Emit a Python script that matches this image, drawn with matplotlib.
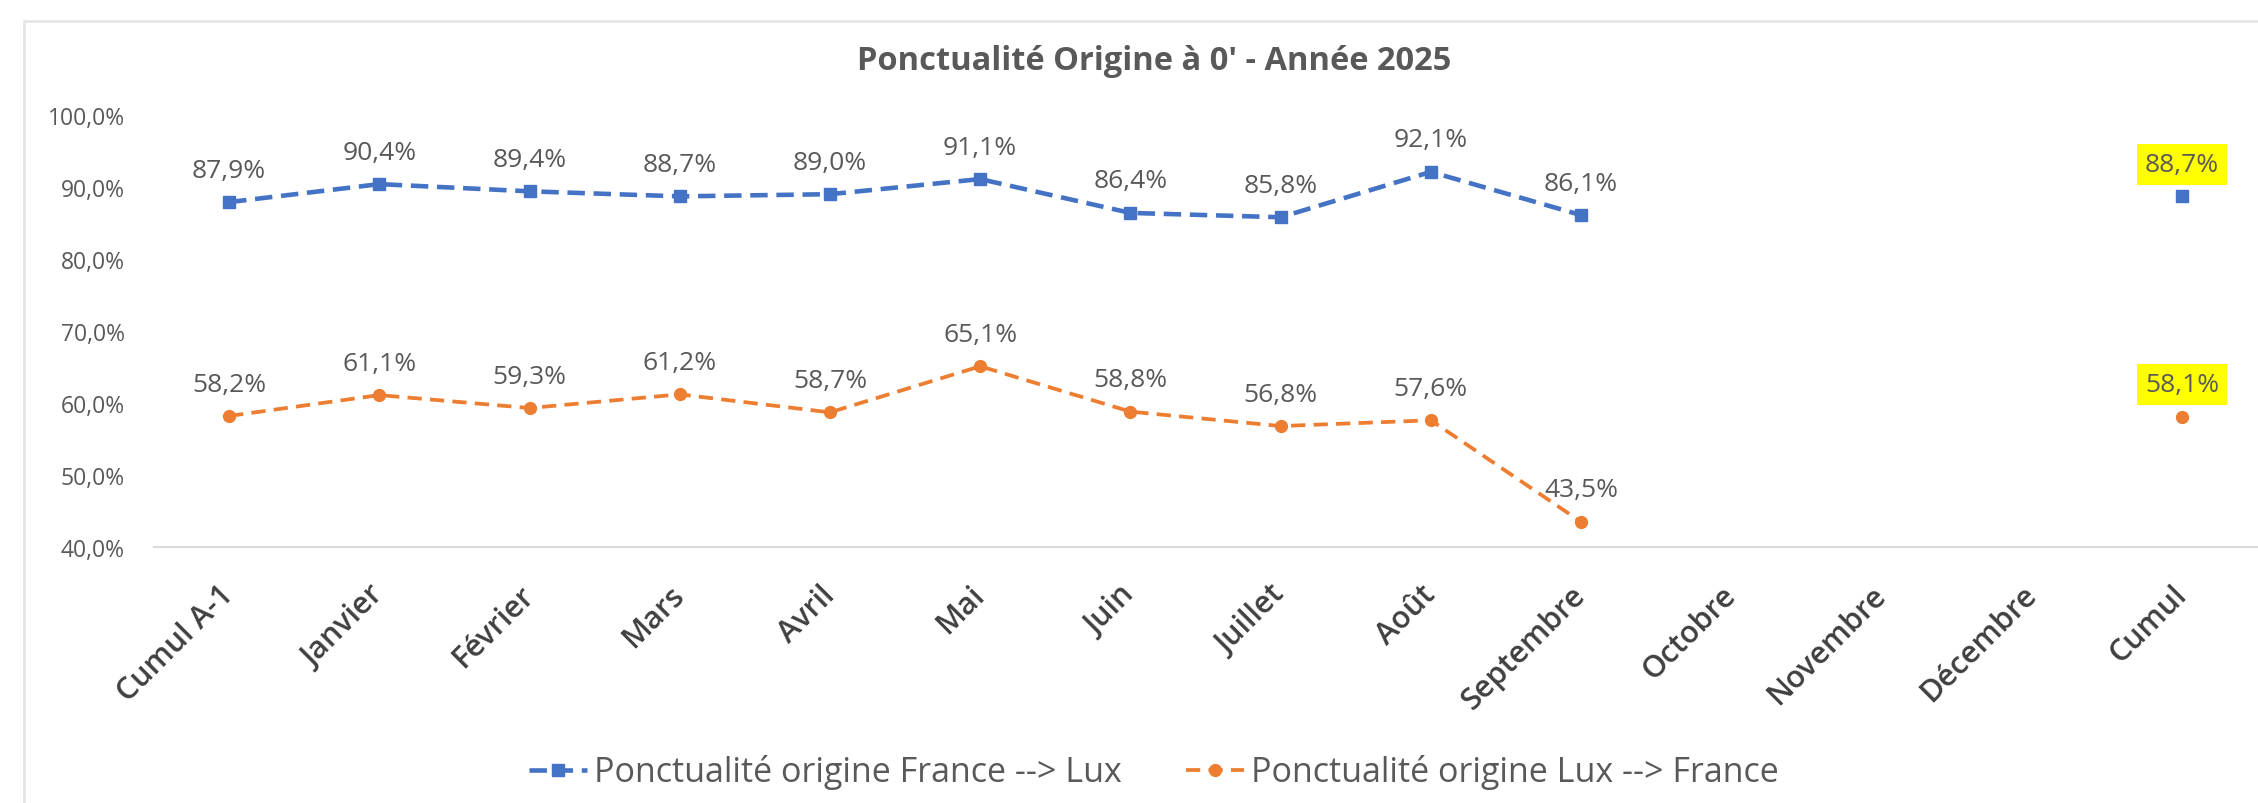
import numpy as np
import matplotlib.pyplot as plt
from matplotlib.patches import Rectangle

plt.rcParams['font.family'] = ['Open Sans', 'DejaVu Sans']

# Categories and series values
categories = ['Cumul A-1', 'Janvier', 'Février', 'Mars', 'Avril', 'Mai', 'Juin',
              'Juillet', 'Août', 'Septembre', 'Octobre', 'Novembre', 'Décembre', 'Cumul']
fr_lux = [0.879, 0.904, 0.894, 0.887, 0.890, 0.911, 0.864, 0.858, 0.921, 0.861,
          np.nan, np.nan, np.nan, 0.887]
lux_fr = [0.582, 0.611, 0.593, 0.612, 0.587, 0.651, 0.588, 0.568, 0.576, 0.435,
          np.nan, np.nan, np.nan, 0.581]
yticks = [0.4, 0.5, 0.6, 0.7, 0.8, 0.9, 1.0]

title = "Ponctualité Origine à 0' - Année 2025"
label_fr = 'Ponctualité origine France --> Lux'
label_lux = 'Ponctualité origine Lux --> France'

BLUE = '#4472C4'
ORANGE = '#ED7D31'
GREY = '#595959'


def pct(v):
    return f'{v * 100:.1f}%'.replace('.', ',')


W, H = 2258, 804
fig = plt.figure(figsize=(W / 100, H / 100), dpi=100)

# faint chart frame
fig.patches.append(Rectangle((24 / W, -0.1), 1.2, 1 - 22 / H + 0.1, transform=fig.transFigure,
                             fill=False, edgecolor='#E6E6E6', linewidth=2))

ax = fig.add_axes([154 / W, 1 - 548 / H, (2257 - 154) / W, (548 - 116) / H])
x = np.arange(len(categories))

ax.plot(x, fr_lux, color=BLUE, lw=3.3, linestyle=(0, (3.8, 1.9)),
        marker='s', ms=8.5, label=label_fr)
ax.plot(x, lux_fr, color=ORANGE, lw=2.7, linestyle=(0, (3.8, 2.2)),
        marker='o', ms=8.5, label=label_lux)

last = len(categories) - 1
for series in (fr_lux, lux_fr):
    for i, v in enumerate(series):
        if np.isnan(v):
            continue
        kw = {}
        if i == last:
            kw['bbox'] = dict(boxstyle='square,pad=0.3', facecolor='#FFFF00', edgecolor='none')
        ax.annotate(pct(v), (i, v), xytext=(0, 23), textcoords='offset points',
                    ha='center', va='center', fontsize=19, color=GREY,
                    annotation_clip=False, **kw)

ax.set_xlim(-0.5, len(categories) - 0.5)
ax.set_ylim(0.4, 1.0)
ax.set_yticks(yticks)
ax.set_yticklabels([pct(v) for v in yticks])
ax.set_xticks(x)
ax.set_xticklabels(categories, rotation=45, ha='right', va='center',
                   rotation_mode='anchor', fontsize=22, fontweight='semibold', color='#404040')
ax.tick_params(axis='y', length=0, pad=21, labelsize=16.5, labelcolor=GREY)
ax.tick_params(axis='x', length=0, pad=31)
for s in ('top', 'right', 'left'):
    ax.spines[s].set_visible(False)
ax.spines['bottom'].set_color('#D9D9D9')
ax.spines['bottom'].set_linewidth(1.5)

fig.text(1154 / W, 1 - 62 / H, title, ha='center', va='center',
         fontsize=23.5, fontweight='bold', color=GREY)

fig.legend(loc='center', bbox_to_anchor=(1154 / W, 1 - 773 / H), ncol=2, frameon=False,
           fontsize=24.5, labelcolor=GREY, handlelength=1.7, handletextpad=0.2,
           columnspacing=1.9)

fig.savefig('out.png', dpi=100)
